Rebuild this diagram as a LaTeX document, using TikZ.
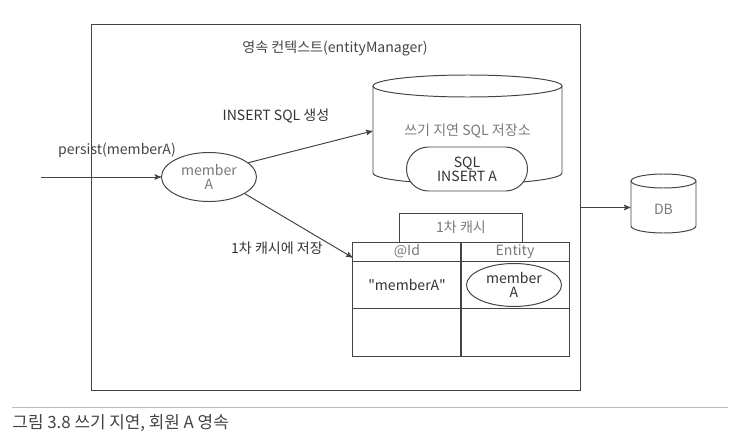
\documentclass[tikz,border=0pt]{standalone}
\usepackage{fontspec}
\setmainfont{Noto Sans CJK KR}
\usetikzlibrary{shapes.geometric, shapes.misc, arrows, positioning, calc}
\definecolor{edgegray}{HTML}{444444}
\definecolor{darkink}{HTML}{333333}
\definecolor{softink}{HTML}{7A7A7A}
\definecolor{rulegray}{HTML}{BBBBBB}

\begin{document}
\begin{tikzpicture}[x=0.025cm, y=-0.025cm, >=stealth', line width=0.7pt, draw=edgegray,
    txt/.style = {font=\fontsize{10}{12}\selectfont, text=darkink, align=center},
    soft/.style = {txt, text=softink},
    cell/.style = {draw=edgegray, rectangle, inner sep=0pt, minimum width=2.7cm},
    obj/.style = {draw=edgegray, ellipse, inner sep=0pt, align=center, fill=white}]
  \useasboundingbox (0,0) rectangle (738,447);

  % persistence context
  \node[draw=edgegray, rectangle, minimum width=12.2cm, minimum height=9.125cm] (ctx) at (336,207.5) {};
  \node[txt, text=edgegray] (title) at (335,48) {영속 컨텍스트(entityManager)};

  % write-behind SQL store
  \draw (373,86) -- (373,173) arc[start angle=180, end angle=0, x radius=94.5, y radius=11] -- (562,86);
  \draw (467.5,86) ellipse[x radius=94.5, y radius=11];
  \node[soft, minimum width=4.725cm, minimum height=2.725cm] (store) at (467.5,131) {쓰기 지연 SQL 저장소};
  \node[txt, draw=edgegray, rounded rectangle, fill=white, minimum width=3.025cm, minimum height=1.1cm, inner sep=0pt] (sql) at (467,169) {SQL\\[-2pt]INSERT A};

  % DB
  \draw (631,181) -- (631,226) arc[start angle=180, end angle=0, x radius=32.5, y radius=7] -- (696,181);
  \draw (663.5,181) ellipse[x radius=32.5, y radius=7];
  \node[soft, minimum width=1.625cm] (db) at (663.5,209) {DB};

  % first-level cache
  \node[soft, draw=edgegray, rectangle, minimum width=3.05cm, minimum height=0.725cm] (cache) at (461,227.5) {1차 캐시};
  \node[cell, soft, minimum height=0.475cm] (h1) at (407,251.5) {@Id};
  \node[cell, soft, minimum height=0.475cm] (h2) at (515,251.5) {Entity};
  \node[cell, txt, minimum height=1.175cm] (c1) at (407,284.5) {\textquotedbl memberA\textquotedbl};
  \node[cell, minimum height=1.175cm] (c2) at (515,284.5) {};
  \node[cell, minimum height=1.2cm] (c3) at (407,332) {};
  \node[cell, minimum height=1.2cm] (c4) at (515,332) {};
  \node[obj, txt, minimum width=2.375cm, minimum height=1.075cm] (ent) at (514,285) {member\\[-2pt]A};

  % member A
  \node[obj, soft, minimum width=2.375cm, minimum height=1.225cm] (m) at (209,177) {member\\[-2pt]A};
  \coordinate (in) at (41,177);
  \node[txt, text=edgegray] (persist) at (117,150) {persist(memberA)};
  \node[txt] (gen) at (276,116) {INSERT SQL 생성};
  \node[txt] (save) at (277,248) {1차 캐시에 저장};

  \path[->]
    (in)       edge (m.west)
    (m.20)     edge (store.west)
    (m.-25)    edge ($(h1.west)!.6!(h1.south west)$)
    (ctx.east) edge (ctx.east -| db.west);

  % caption
  \coordinate (r1) at (12,407);
  \coordinate (r2) at (728,407);
  \draw[rulegray, line width=0.5pt] (r1) -- (r2);
  \node[anchor=west, inner sep=0pt, font=\fontsize{12}{14}\selectfont, text=edgegray] (cap) at (12,423) {그림 3.8 쓰기 지연, 회원 A 영속};
\end{tikzpicture}
\end{document}
